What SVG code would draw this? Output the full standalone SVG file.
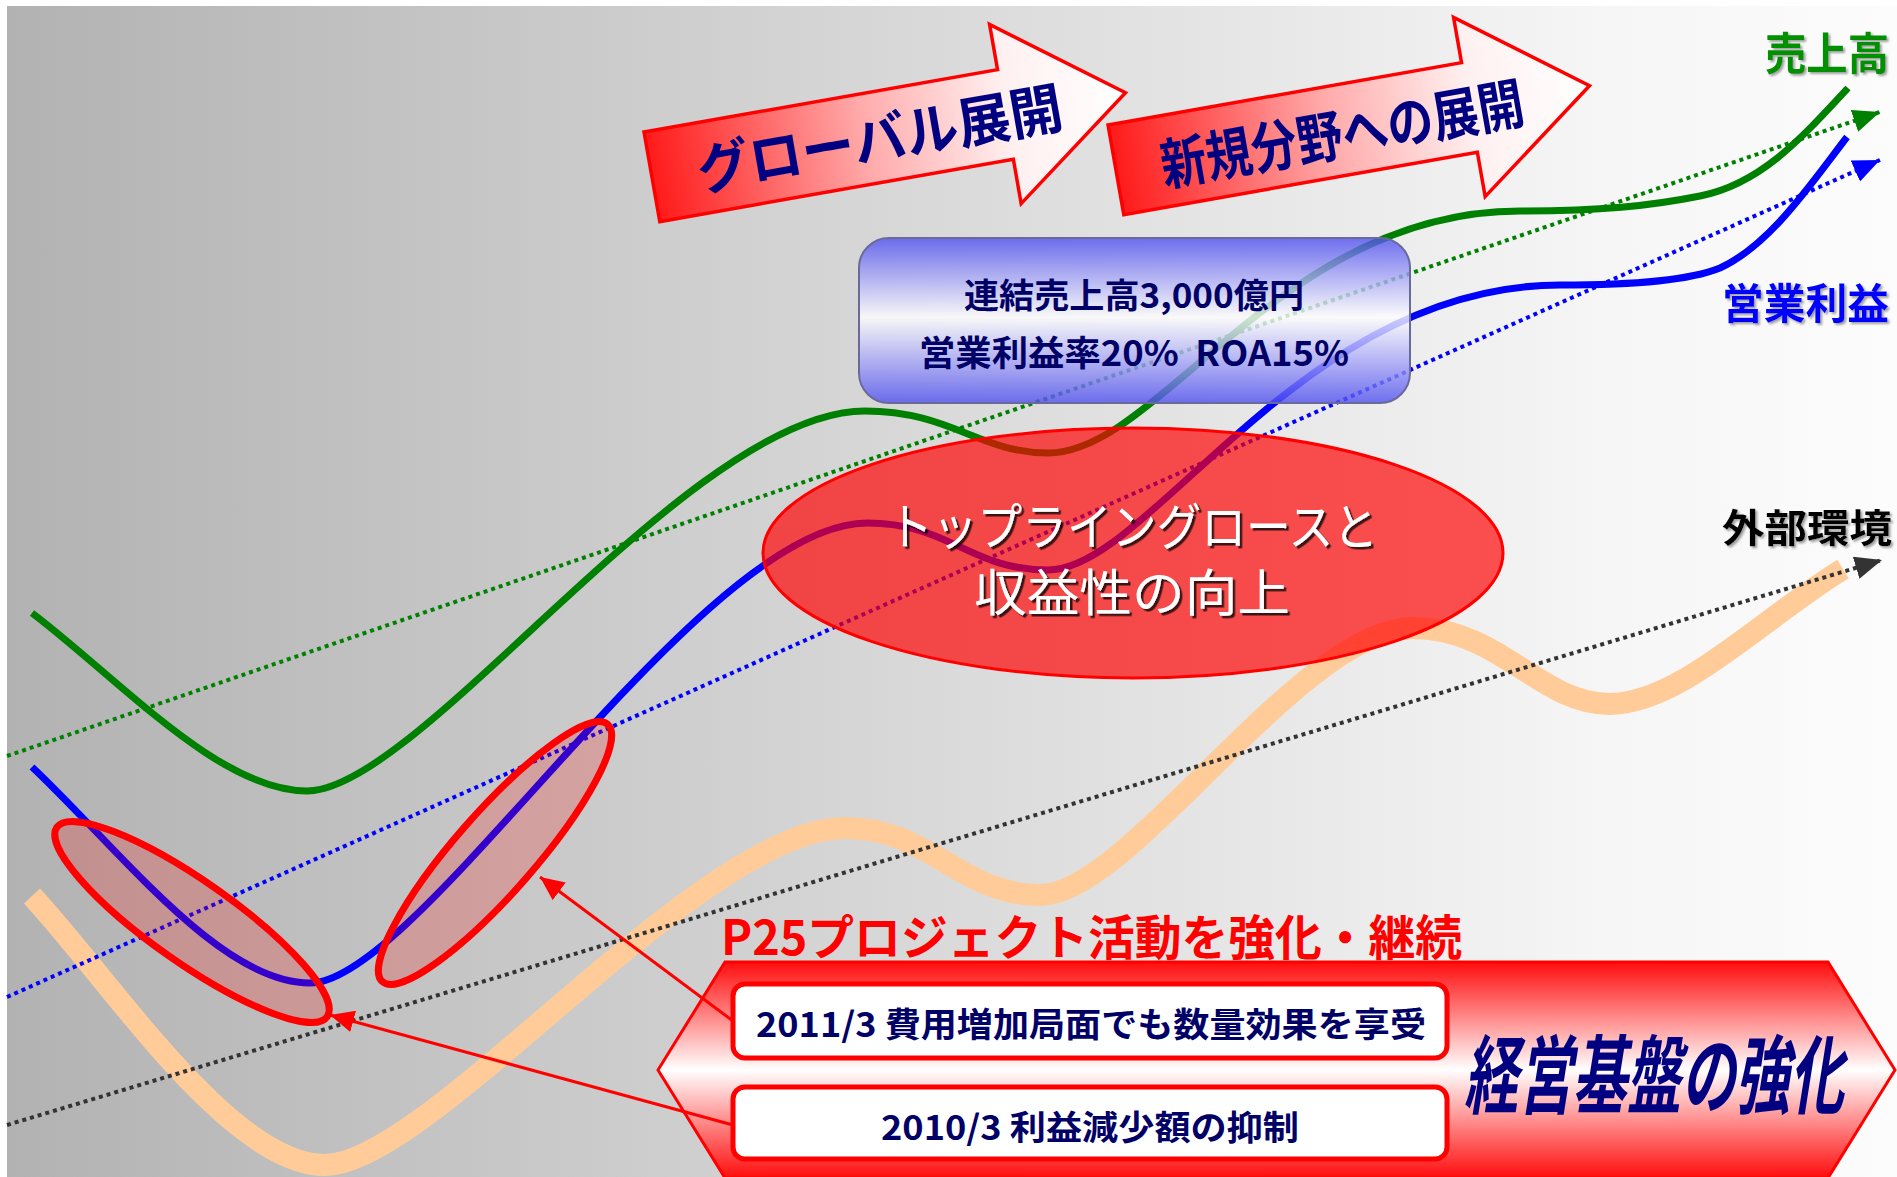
<svg xmlns="http://www.w3.org/2000/svg" width="1897" height="1177" viewBox="0 0 1897 1177">
<defs>
  <linearGradient id="bgGrad" x1="0" y1="0" x2="1" y2="0">
    <stop offset="0" stop-color="#b2b2b2"/>
    <stop offset="0.85" stop-color="#f6f6f6"/>
    <stop offset="1" stop-color="#fcfcfc"/>
  </linearGradient>
  <linearGradient id="arrowGrad" x1="0" y1="0" x2="1" y2="0">
    <stop offset="0" stop-color="#ff1a1a"/>
    <stop offset="0.45" stop-color="#ffaaaa"/>
    <stop offset="0.75" stop-color="#fff0f0"/>
    <stop offset="1" stop-color="#ffffff"/>
  </linearGradient>
  <linearGradient id="boxGrad" x1="0" y1="0" x2="0" y2="1">
    <stop offset="0" stop-color="#5050f0"/>
    <stop offset="0.48" stop-color="#ffffff"/>
    <stop offset="1" stop-color="#5050f0"/>
  </linearGradient>
  <linearGradient id="hexGrad" x1="0" y1="0" x2="0" y2="1">
    <stop offset="0" stop-color="#ff0d0d"/>
    <stop offset="0.5" stop-color="#ffffff"/>
    <stop offset="1" stop-color="#ff0d0d"/>
  </linearGradient>
  <marker id="mG" markerUnits="userSpaceOnUse" markerWidth="27" markerHeight="23" viewBox="0 0 27 23" refX="27" refY="11.5" orient="auto">
    <path d="M0,0 L27,11.5 L0,23 z" fill="#008000"/>
  </marker>
  <marker id="mB" markerUnits="userSpaceOnUse" markerWidth="27" markerHeight="23" viewBox="0 0 27 23" refX="27" refY="11.5" orient="auto">
    <path d="M0,0 L27,11.5 L0,23 z" fill="#0000ff"/>
  </marker>
  <marker id="mK" markerUnits="userSpaceOnUse" markerWidth="27" markerHeight="23" viewBox="0 0 27 23" refX="27" refY="11.5" orient="auto">
    <path d="M0,0 L27,11.5 L0,23 z" fill="#333333"/>
  </marker>
  <marker id="mR" markerUnits="userSpaceOnUse" markerWidth="24" markerHeight="22" viewBox="0 0 24 22" refX="24" refY="11" orient="auto">
    <path d="M0,0 L24,11 L0,22 z" fill="#ff0000"/>
  </marker>
  <filter id="shDark" x="-5%" y="-20%" width="115%" height="160%">
    <feDropShadow dx="2.5" dy="2.5" stdDeviation="0.6" flood-color="#000000" flood-opacity="0.75"/>
  </filter>
  <filter id="shGray" x="-5%" y="-20%" width="115%" height="160%">
    <feDropShadow dx="2" dy="2" stdDeviation="0.8" flood-color="#7a7a7a" flood-opacity="0.7"/>
  </filter>
</defs>
<style>
  .jp{font-family:"Noto Sans CJK JP","Noto Sans CJK SC",sans-serif;font-weight:bold}
  .jpn{font-family:"Noto Sans CJK JP","Noto Sans CJK SC",sans-serif;font-weight:normal}
  .navy{fill:#000080}
  .dk{fill:#000066}
  .dot{fill:none;stroke-width:4;stroke-dasharray:4 4}
  .curve{fill:none;stroke-width:7}
  .ring{fill:#ff0000;fill-opacity:0.2;stroke:#ff0000;stroke-width:7}
  .conn{stroke:#ff0000;stroke-width:3;fill:none}
  .wbox{fill:#ffffff;stroke:#ff0000;stroke-width:5}
</style>

<g id="background">
  <rect x="0" y="0" width="1897" height="1177" fill="#ffffff"/>
  <rect x="7" y="6" width="1890" height="1171" fill="url(#bgGrad)"/>
</g>

<g id="chart-lines">
  <path id="external-curve" d="M32,896 C110,980 230,1165 325,1165 C430,1165 700,828 845,828 C930,828 960,895 1040,895 C1130,895 1300,628 1413,628 C1500,628 1540,704 1609,704 C1680,704 1760,620 1843,569" fill="none" stroke="#ffcc99" stroke-width="22"/>
  <path id="sales-curve" class="curve" stroke="#008000" d="M32,613 C120,680 220,791 307,791 C420,791 690,411 865,411 C950,411 980,453 1048,453 C1160,453 1280,211 1520,211 C1600,211 1650,206 1700,196 C1760,184 1800,140 1848,88"/>
  <path id="profit-curve" class="curve" stroke="#0000ff" d="M32,767 C120,850 220,983 310,983 C420,983 700,523 867,523 C950,523 970,570 1048,570 C1150,570 1300,285 1560,285 C1640,285 1690,280 1720,268 C1770,245 1810,185 1847,137"/>
  <path id="sales-trend" class="dot" stroke="#008000" d="M7,756 L1880,112" marker-end="url(#mG)"/>
  <path id="profit-trend" class="dot" stroke="#0000ff" d="M7,997 L1880,160" marker-end="url(#mB)"/>
  <path id="external-trend" class="dot" stroke="#333333" d="M7,1125 L1882,560" marker-end="url(#mK)"/>
</g>

<g id="ellipse-2010">
  <ellipse class="ring" cx="192" cy="922" rx="165" ry="41" transform="rotate(35 192 922)"/>
</g>
<g id="ellipse-2011">
  <ellipse class="ring" cx="495" cy="853" rx="171" ry="40" transform="rotate(-48.8 495 853)"/>
</g>

<g id="topline-ellipse">
  <ellipse cx="1133" cy="553" rx="370" ry="125" fill="#ff0000" fill-opacity="0.68" stroke="#ff0000" stroke-width="3"/>
  <text class="jpn" x="1133" y="545" font-size="50" fill="#ffffff" text-anchor="middle" textLength="490" lengthAdjust="spacingAndGlyphs" filter="url(#shDark)">トップライングロースと</text>
  <text class="jpn" x="1132" y="611" font-size="50" fill="#ffffff" text-anchor="middle" textLength="316" lengthAdjust="spacingAndGlyphs" filter="url(#shDark)">収益性の向上</text>
</g>

<g id="target-box">
  <rect x="859" y="238" width="551" height="165" rx="30" fill="url(#boxGrad)" fill-opacity="0.8" stroke="#6a6a9a" stroke-width="2"/>
  <text class="jp dk" x="1134" y="308" font-size="34" text-anchor="middle" textLength="340" lengthAdjust="spacingAndGlyphs">連結売上高3,000億円</text>
  <text class="jp dk" x="1134" y="366" font-size="35" text-anchor="middle" textLength="430" lengthAdjust="spacingAndGlyphs" style="white-space:pre">営業利益率20%  ROA15%</text>
</g>

<g id="arrow-global" transform="translate(644,132) rotate(-10)">
  <polygon points="0,0 359,0 359,-46 481,45 359,136 359,91 0,91" fill="url(#arrowGrad)" stroke="#ff0000" stroke-width="3.5"/>
  <text class="jp navy" x="231" y="68" font-size="56" text-anchor="middle" textLength="370" lengthAdjust="spacingAndGlyphs">グローバル展開</text>
</g>

<g id="arrow-newfield" transform="translate(1108,125) rotate(-10)">
  <polygon points="0,0 359,0 359,-46 481,45 359,136 359,91 0,91" fill="url(#arrowGrad)" stroke="#ff0000" stroke-width="3.5"/>
  <text class="jp navy" x="229" y="70" font-size="56" text-anchor="middle" textLength="368" lengthAdjust="spacingAndGlyphs">新規分野への展開</text>
</g>

<g id="labels">
  <text class="jp" x="1765" y="70" font-size="44" fill="#009000" textLength="124" lengthAdjust="spacingAndGlyphs" filter="url(#shGray)">売上高</text>
  <text class="jp" x="1722" y="319" font-size="42" fill="#0000ff" textLength="167" lengthAdjust="spacingAndGlyphs" filter="url(#shGray)">営業利益</text>
  <text class="jp" x="1722" y="542" font-size="39" fill="#000000" textLength="170" lengthAdjust="spacingAndGlyphs" filter="url(#shGray)">外部環境</text>
</g>

<g id="banner">
  <polygon points="658,1070 725,962 1828,962 1895,1070 1828,1178 725,1178" fill="url(#hexGrad)" stroke="#ff0000" stroke-width="3"/>
  <text class="jp navy" x="1654" y="1107" font-size="86" font-style="italic" text-anchor="middle" textLength="380" lengthAdjust="spacingAndGlyphs">経営基盤の強化</text>
</g>

<g id="box-2011">
  <rect class="wbox" x="733" y="984" width="714" height="74" rx="12"/>
  <text class="jp dk" x="1091" y="1037" font-size="34" text-anchor="middle" textLength="670" lengthAdjust="spacingAndGlyphs">2011/3 費用増加局面でも数量効果を享受</text>
</g>

<g id="box-2010">
  <rect class="wbox" x="733" y="1087" width="714" height="72" rx="12"/>
  <text class="jp dk" x="1090" y="1140" font-size="34" text-anchor="middle" textLength="418" lengthAdjust="spacingAndGlyphs">2010/3 利益減少額の抑制</text>
</g>

<g id="p25-title">
  <text class="jp" x="721" y="955" font-size="48" fill="#ff0000" textLength="741" lengthAdjust="spacingAndGlyphs">P25プロジェクト活動を強化・継続</text>
</g>

<g id="connectors">
  <line class="conn" x1="733" y1="1021" x2="540" y2="877" marker-end="url(#mR)"/>
  <line class="conn" x1="733" y1="1125" x2="330" y2="1015" marker-end="url(#mR)"/>
</g>
</svg>
